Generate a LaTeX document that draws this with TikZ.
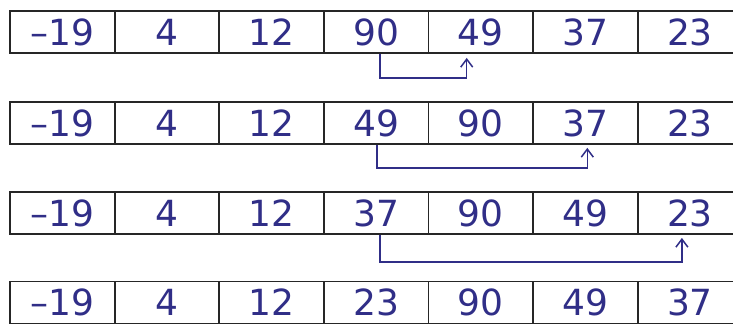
\documentclass[tikz,border=0pt]{standalone}
\usepackage{xcolor}
\usepackage{fontspec}
\usepackage{tikz}
\usetikzlibrary{arrows.meta}
\newfontfamily\handfont{DejaVu Sans}
\definecolor{inkblue}{RGB}{48,46,135}

\begin{document}
\begin{tikzpicture}[x=1pt, y=1pt,
    cell/.style={draw=black!85, line width=1.8pt, minimum width=104.6pt, minimum height=42pt,
        inner sep=0pt, text=inkblue, font=\handfont\fontsize{36}{38}\selectfont},
    swapline/.style={draw=inkblue, line width=1.5pt, -{Straight Barb[length=8pt, width=12pt]}}]
    \useasboundingbox (0, 0) rectangle (733, 329);

    \foreach \r/\y/\vals in {1/297/{–19,4,12,90,49,37,23}, 2/206/{–19,4,12,49,90,37,23},
                             3/116/{–19,4,12,37,90,49,23}, 4/26.5/{–19,4,12,23,90,49,37}}
        \foreach \v [count=\c] in \vals
            \node[cell] (r\r-\c) at ({10 + 104.6*(\c-0.5)}, \y) {\v};

    \draw[swapline] ([xshift=4pt]r1-4.south) -- ++(0, -24) -| ([xshift=-14pt, yshift=-4pt]r1-5.south);
    \draw[swapline] ([xshift=1pt]r2-4.south) -- ++(0, -23) -| ([xshift=2pt, yshift=-3pt]r2-6.south);
    \draw[swapline] ([xshift=4pt]r3-4.south) -- ++(0, -27) -| ([xshift=-8pt, yshift=-3pt]r3-7.south);
\end{tikzpicture}
\end{document}
